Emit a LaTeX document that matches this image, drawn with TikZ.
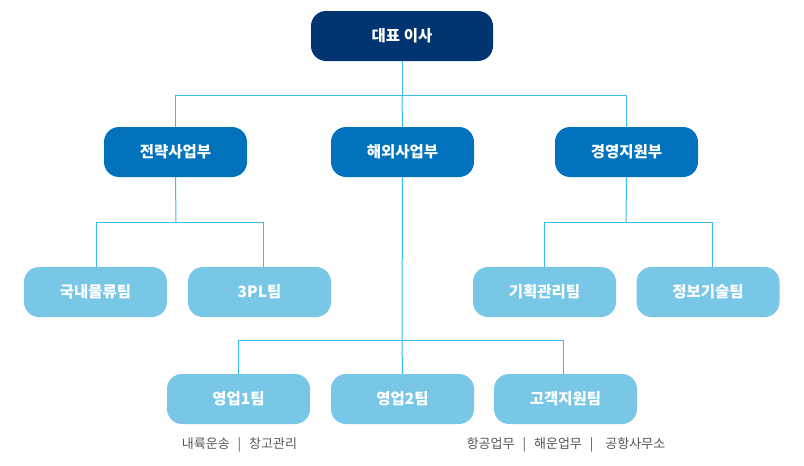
\documentclass[tikz,border=0pt]{standalone}
\usepackage{fontspec}
\setmainfont{Noto Sans CJK KR}
\newfontfamily\kr{Noto Sans CJK KR}
\definecolor{navy}{HTML}{003571}
\definecolor{midblue}{HTML}{0272BC}
\definecolor{lightblue}{HTML}{79C7E6}
\definecolor{linecol}{HTML}{38BDEB}
\definecolor{subgray}{HTML}{555555}
\begin{document}
\begin{tikzpicture}[x=1pt,y=-1pt,
  box/.style={rounded corners=15pt, minimum width=143pt, minimum height=50pt,
    text=white, font=\kr\bfseries\fontsize{15.5}{17}\selectfont, inner sep=0pt},
  topbox/.style={box, fill=navy, minimum width=182pt},
  divbox/.style={box, fill=midblue},
  teambox/.style={box, fill=lightblue},
  conn/.style={draw=linecol, line width=1pt},
  sub/.style={text=subgray, font=\kr\fontsize{13}{15}\selectfont, inner sep=0pt}]
\useasboundingbox (0,0) rectangle (804,466);
\node[topbox] (ceo) at (402,36) {대표 이사};
\node[divbox] (d1) at (175.5,152) {전략사업부};
\node[divbox] (d2) at (402.5,152) {해외사업부};
\node[divbox] (d3) at (626.5,152) {경영지원부};
\node[teambox] (t1) at (95.5,292) {국내물류팀};
\node[teambox] (t2) at (259.5,292) {3PL팀};
\node[teambox] (t3) at (544.5,292) {기획관리팀};
\node[teambox] (t4) at (708,292) {정보기술팀};
\node[teambox] (s1) at (238.5,399) {영업1팀};
\node[teambox] (s2) at (402.5,399) {영업2팀};
\node[teambox] (s3) at (565.5,399) {고객지원팀};
\node[sub] (n1) at (239.5,445) {내륙운송\hspace{8pt}|\hspace{8pt}창고관리};
\node[sub] (n2) at (566,445) {항공업무\hspace{8pt}|\hspace{8pt}해운업무\hspace{8pt}|\hspace{12pt}공항사무소};
% connectors
\coordinate (b0) at (402,95);
\draw[conn] (ceo.south) -- (b0);
\draw[conn] (b0) -| (d1.north);
\draw[conn] (b0) -- (d2.north);
\draw[conn] (b0) -| (d3.north);
\coordinate (b1) at (176,222);
\draw[conn] (d1.south) -- (b1);
\draw[conn] (b1) -| ([xshift=0.5pt]t1.north);
\draw[conn] (b1) -| ([xshift=3.5pt]t2.north);
\coordinate (b2) at (402,340);
\draw[conn] (d2.south) -- (b2);
\draw[conn] (b2) -| (s1.north);
\draw[conn] (b2) -- (s2.north);
\draw[conn] (b2) -| ([xshift=-2.5pt]s3.north);
\coordinate (b3) at (626,222);
\draw[conn] (d3.south) -- (b3);
\draw[conn] (b3) -| (t3.north);
\draw[conn] (b3) -| ([xshift=4pt]t4.north);
\end{tikzpicture}
\end{document}
